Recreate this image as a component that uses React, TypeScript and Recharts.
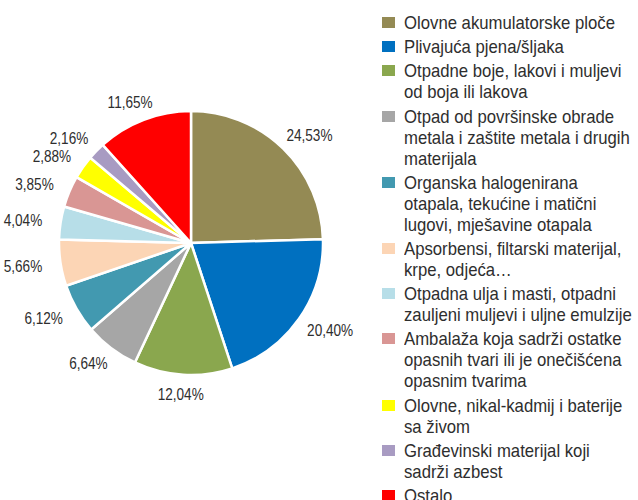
import { Cell, Legend, Pie, PieChart } from "recharts";

const names = [
  "Olovne akumulatorske ploče",
  "Plivajuća pjena/šljaka",
  "Otpadne boje, lakovi i muljevi\nod boja ili lakova",
  "Otpad od površinske obrade\nmetala i zaštite metala i drugih\nmaterijala",
  "Organska halogenirana\notapala, tekućine i matični\nlugovi, mješavine otapala",
  "Apsorbensi, filtarski materijal,\nkrpe, odjeća…",
  "Otpadna ulja i masti, otpadni\nzauljeni muljevi i uljne emulzije",
  "Ambalaža koja sadrži ostatke\nopasnih tvari ili je onečišćena\nopasnim tvarima",
  "Olovne, nikal-kadmij i baterije\nsa živom",
  "Građevinski materijal koji\nsadrži azbest",
  "Ostalo",
];

const shares = [24.53, 20.4, 12.04, 6.64, 6.12, 5.66, 4.04, 3.85, 2.88, 2.16, 11.65];

const colors = [
  "#948a54",
  "#0070c0",
  "#8aa74e",
  "#a6a6a6",
  "#4299b0",
  "#fcd5b5",
  "#b7dee8",
  "#d99694",
  "#ffff00",
  "#a89bc2",
  "#ff0000",
];

const data = names.map((name, i) => ({ name, value: shares[i] }));

// no narrow font installed, so squeeze Liberation Sans horizontally
const FONT = '"Liberation Sans", Arial, sans-serif';
const LABEL_SQUEEZE = 0.8;
const LEGEND_SQUEEZE = 0.88;
const TEXT = "#2e2e2e";
const RADIAN = Math.PI / 180;

const fmt = (v: number) => v.toFixed(2).replace(".", ",") + "%";

function renderLabel(props: any) {
  const { cx, cy, midAngle, outerRadius, value } = props;
  const cos = Math.cos(-midAngle * RADIAN);
  const sin = Math.sin(-midAngle * RADIAN);
  const r = outerRadius + 12;
  // push the label box out so its nearest edge sits on the anchor point
  const x = cx + r * cos + 26 * cos;
  const y = cy + r * sin + 7 * sin;
  return (
    <text
      transform={`translate(${x},${y}) scale(${LABEL_SQUEEZE},1)`}
      x={0}
      y={0}
      fill={TEXT}
      fontSize={17}
      fontFamily={FONT}
      textAnchor="middle"
      dominantBaseline="central"
    >
      {fmt(value)}
    </text>
  );
}

function LegendList() {
  return (
    <div style={{ fontFamily: FONT, fontSize: 19, color: TEXT }}>
      {data.map((d, i) => (
        <div key={d.name} style={{ display: "flex", marginBottom: 3.2 }}>
          <div
            style={{
              width: 13,
              height: 11,
              marginTop: 5,
              marginRight: 9,
              flexShrink: 0,
              background: colors[i],
            }}
          />
          <div
            style={{
              whiteSpace: "pre",
              lineHeight: "21px",
              transform: `scaleX(${LEGEND_SQUEEZE})`,
              transformOrigin: "left top",
            }}
          >
            {d.name}
          </div>
        </div>
      ))}
    </div>
  );
}

export default function App() {
  return (
    <div style={{ position: "absolute", left: 0, top: 0, width: 638, height: 500, overflow: "hidden", background: "#fff" }}>
      <PieChart width={638} height={500} margin={{ top: 0, right: 0, bottom: 0, left: 0 }}>
        <Pie
          data={data}
          dataKey="value"
          nameKey="name"
          cx={191}
          cy={243}
          outerRadius={132}
          startAngle={90}
          endAngle={-270}
          stroke="#ffffff"
          strokeWidth={2.5}
          label={renderLabel}
          labelLine={false}
          isAnimationActive={false}
        >
          {data.map((d, i) => (
            <Cell key={d.name} fill={colors[i]} />
          ))}
        </Pie>
        <Legend
          layout="vertical"
          align="right"
          verticalAlign="top"
          content={() => <LegendList />}
          wrapperStyle={{ left: 382, top: 12, width: 256 }}
        />
      </PieChart>
    </div>
  );
}
